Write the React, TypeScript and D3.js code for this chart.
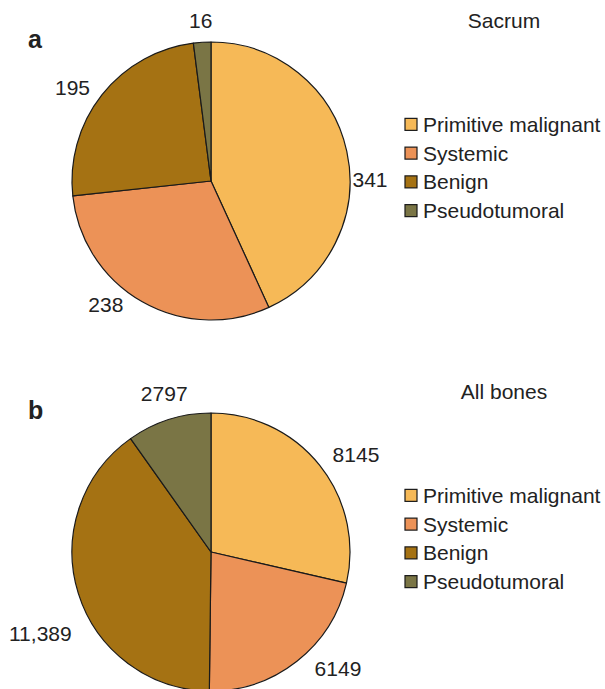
import React, { useEffect, useRef } from "react";
import * as d3 from "d3";

const categories = ["Primitive malignant", "Systemic", "Benign", "Pseudotumoral"];
const colors = ["#F6B957", "#EC9257", "#A57213", "#7A7545"];
const sacrumValues = [341, 238, 195, 16];
const sacrumLabels = ["341", "238", "195", "16"];
const allBonesValues = [8145, 6149, 11389, 2797];
const allBonesLabels = ["8145", "6149", "11,389", "2797"];

// label placement (layout): angular nudge from slice mid-angle (deg) and radius
const sacrumLabelNudge = [11.6, 10.7, -4.3, 0];
const sacrumLabelRadius = [159, 162.5, 167, 161];
const allBonesLabelNudge = [4.7, -9.4, -8.1, 1.2];
const allBonesLabelRadius = [174.5, 172, 189, 165];

const W = 605;
const H = 689;
const FONT = "'Liberation Sans', Arial, Helvetica, sans-serif";

export default function App() {
  const ref = useRef<SVGSVGElement | null>(null);

  useEffect(() => {
    document.body.style.margin = "0";
    const svg = d3.select(ref.current);
    svg.selectAll("*").remove();

    const panels = [
      { letter: "a", title: "Sacrum", values: sacrumValues, labels: sacrumLabels, nudge: sacrumLabelNudge, lr: sacrumLabelRadius, cx: 211, cy: 181 },
      { letter: "b", title: "All bones", values: allBonesValues, labels: allBonesLabels, nudge: allBonesLabelNudge, lr: allBonesLabelRadius, cx: 211, cy: 552 },
    ];
    const R = 139;

    panels.forEach((p) => {
      const g = svg.append("g").attr("transform", `translate(${p.cx},${p.cy})`);
      const pie = d3.pie<number>().sort(null).value((d) => d);
      const arcs = pie(p.values);
      const arc = d3.arc<d3.PieArcDatum<number>>().innerRadius(0).outerRadius(R);

      g.selectAll("path.slice")
        .data(arcs)
        .join("path")
        .attr("class", "slice")
        .attr("d", arc as any)
        .attr("fill", (_d, i) => colors[i])
        .attr("stroke", "#1a1a1a")
        .attr("stroke-width", 1.2)
        .attr("stroke-linejoin", "round");

      const pos = (d: d3.PieArcDatum<number>, i: number) => {
        const a = (d.startAngle + d.endAngle) / 2 + (p.nudge[i] * Math.PI) / 180;
        const r = p.lr[i];
        return [Math.sin(a) * r, -Math.cos(a) * r];
      };

      g.selectAll("text.val")
        .data(arcs)
        .join("text")
        .attr("class", "val")
        .attr("x", (d, i) => pos(d, i)[0])
        .attr("y", (d, i) => pos(d, i)[1])
        .attr("text-anchor", "middle")
        .attr("dominant-baseline", "central")
        .attr("font-family", FONT)
        .attr("font-size", 21)
        .attr("fill", "#222")
        .text((_d, i) => p.labels[i]);

      // panel letter
      svg.append("text")
        .attr("x", 28)
        .attr("y", p.cy - 181 + 48)
        .attr("font-family", FONT)
        .attr("font-weight", "bold")
        .attr("font-size", 25)
        .attr("fill", "#222")
        .text(p.letter);

      // title
      svg.append("text")
        .attr("x", 504)
        .attr("y", p.cy - 181 + 28)
        .attr("text-anchor", "middle")
        .attr("font-family", FONT)
        .attr("font-size", 21)
        .attr("fill", "#222")
        .text(p.title);

      // legend
      const legY = d3.scaleBand<string>().domain(categories).range([p.cy - 181 + 110, p.cy - 181 + 225]);
      const lg = svg.append("g");
      const rows = lg.selectAll("g").data(categories).join("g")
        .attr("transform", (d) => `translate(405,${(legY(d) as number) + legY.bandwidth() / 2})`);
      rows.append("rect")
        .attr("x", 0)
        .attr("y", -6)
        .attr("width", 12)
        .attr("height", 12)
        .attr("fill", (_d, i) => colors[i])
        .attr("stroke", "#1a1a1a")
        .attr("stroke-width", 1.2);
      rows.append("text")
        .attr("x", 18)
        .attr("y", 0)
        .attr("dominant-baseline", "central")
        .attr("font-family", FONT)
        .attr("font-size", 21)
        .attr("fill", "#222")
        .text((d) => d);
    });
  }, []);

  return (
    <svg
      ref={ref}
      width={W}
      height={H}
      style={{ position: "absolute", left: 0, top: 0, background: "#fff" }}
    />
  );
}
